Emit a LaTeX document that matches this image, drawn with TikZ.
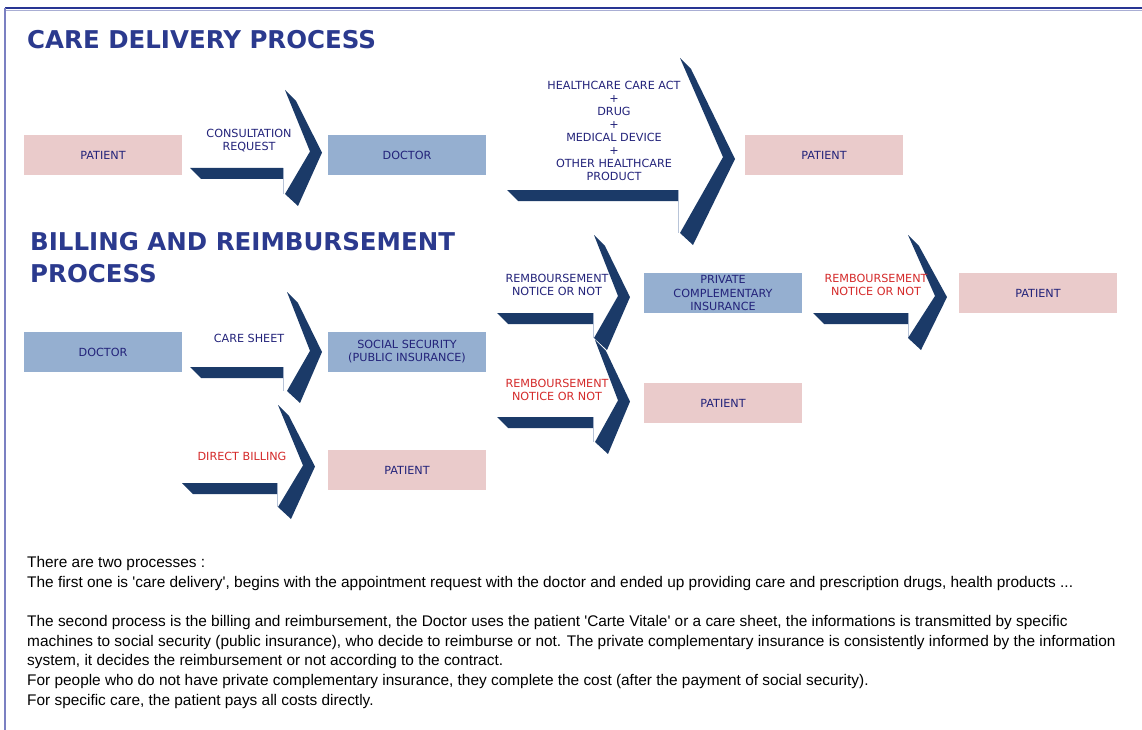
\documentclass[tikz,border=0pt]{standalone}
\usepackage{fontspec}
\setmainfont{DejaVu Sans}
\newfontfamily\notefont{Liberation Sans}
\usepackage{tikz}

\definecolor{chevblue}{HTML}{1B3A68}
\definecolor{boxpink}{HTML}{EACBCB}
\definecolor{boxblue}{HTML}{95AFD0}
\definecolor{inkblue}{HTML}{23237A}
\definecolor{inkred}{HTML}{D42A2A}
\definecolor{headblue}{HTML}{2B3A8E}
\definecolor{edgegrey}{HTML}{B8C4D8}
\definecolor{frametop}{HTML}{283593}
\definecolor{frameleft}{HTML}{7B80C2}

\tikzset{
  box/.style={minimum width=158pt, minimum height=40pt, inner sep=0pt,
    align=center, text=inkblue, font=\fontsize{11.2}{13.1}\selectfont},
  pinkbox/.style={box, fill=boxpink},
  bluebox/.style={box, fill=boxblue},
  lbl/.style={align=center, inner sep=0pt, text=inkblue,
    font=\fontsize{11.2}{13.1}\selectfont},
  redlbl/.style={lbl, text=inkred},
  heading/.style={align=left, inner sep=0pt, text=headblue,
    font=\fontsize{24.5}{32}\selectfont\bfseries},
}

\begin{document}
\begin{tikzpicture}[x=1pt, y=-1pt]
        \useasboundingbox (0,0) rectangle (1142,730);

        % frame
        \draw[frametop, line width=2pt] (5,8) -- (1142,8);
        \draw[frametop!40, line width=1pt] (6,10.5) -- (1142,10.5);
        \draw[frameleft, line width=1.6pt] (5,8) -- (5,730);

        % arrow pieces: shaft from x1 to x2, chevron with top point, height, tip
        \newcommand\Shaft[3]{
          \fill[chevblue] (#1,#3) -- (#2,#3) -- (#2,#3+11) -- (#1+11,#3+11) -- cycle;}
        \newcommand\Chevron[4]{
          \fill[chevblue] (#1,#2) -- (#1+11,#2+11) -- (#1+#4,#2+0.54*#3)
            -- (#1+13,#2+#3) -- (#1,#2+#3-12) -- (#1+#4-12,#2+0.53*#3) -- cycle;}
        \newcommand\Edge[4]{
          \draw[edgegrey, line width=0.8pt] (#1,#2) -- (#3,#4);}

        \node[heading, anchor=west] (hcare) at (27,40) {CARE DELIVERY PROCESS};
        \node[heading, anchor=west] (hbill) at (30,258) {BILLING AND REIMBURSEMENT\\PROCESS};

        % care delivery
        \node[pinkbox] (patA) at (103,155) {PATIENT};
        \node[bluebox] (docA) at (407,155) {DOCTOR};
        \node[pinkbox] (patB) at (824,155) {PATIENT};

        \Edge{283}{168}{283}{194}
        \Shaft{190}{283}{168}
        \Chevron{285}{90}{116}{37}
        \node[lbl] (consult) at (249,141) {CONSULTATION\\REQUEST};

        \Edge{678}{190}{678}{233}
        \Shaft{507}{678}{190}
        \Chevron{680}{58}{187}{55}
        \node[lbl] (care) at (614,131) {HEALTHCARE CARE ACT\\+\\DRUG\\+\\MEDICAL DEVICE\\+\\OTHER HEALTHCARE\\PRODUCT};

        % billing and reimbursement
        \node[bluebox] (docB) at (103,352) {DOCTOR};
        \node[bluebox] (secu) at (407,352) {SOCIAL SECURITY\\(PUBLIC INSURANCE)};
        \node[pinkbox] (patC) at (407,470) {PATIENT};
        \node[bluebox] (mutu) at (723,293) {PRIVATE\\COMPLEMENTARY\\INSURANCE};
        \node[pinkbox] (patD) at (723,403) {PATIENT};
        \node[pinkbox] (patE) at (1038,293) {PATIENT};

        \Edge{283}{367}{283}{391}
        \Shaft{190}{283}{367}
        \Chevron{287}{292}{111}{35}
        \node[lbl] (sheet) at (249,338) {CARE SHEET};

        \Edge{277}{483}{277}{507}
        \Shaft{182}{277}{483}
        \Chevron{278}{405}{114}{37}
        \node[redlbl] (direct) at (242,456) {DIRECT BILLING};

        \Edge{593}{313}{593}{338}
        \Shaft{497}{593}{313}
        \Chevron{594}{235}{115}{36}
        \node[lbl] (rembA) at (557,285) {REMBOURSEMENT\\NOTICE OR NOT};

        \Edge{593}{417}{593}{442}
        \Shaft{497}{593}{417}
        \Chevron{595}{340}{114}{35}
        \node[redlbl] (rembB) at (557,390) {REMBOURSEMENT\\NOTICE OR NOT};

        \Edge{908}{313}{908}{338}
        \Shaft{813}{908}{313}
        \Chevron{908}{235}{115}{39}
        \node[redlbl] (rembC) at (876,285) {REMBOURSEMENT\\NOTICE OR NOT};

        % notes
        \node[anchor=north west, align=left, inner sep=0pt,
          font=\notefont\fontsize{15.4}{19.7}\selectfont] (notes) at (27,556) {%
          There are two processes :\\
          The first one is \textquotesingle care delivery\textquotesingle, begins with the appointment request with the doctor and ended up providing care and prescription drugs, health products ...\\[19.7pt]
          The second process is the billing and reimbursement, the Doctor uses the patient \textquotesingle Carte Vitale\textquotesingle{} or a care sheet, the informations is transmitted by specific\\
          machines to social security (public insurance), who decide to reimburse or not. The private complementary insurance is consistently informed by the information\\
          system, it decides the reimbursement or not according to the contract.\\
          For people who do not have private complementary insurance, they complete the cost (after the payment of social security).\\
          For specific care, the patient pays all costs directly.};
    \end{tikzpicture}
\end{document}
